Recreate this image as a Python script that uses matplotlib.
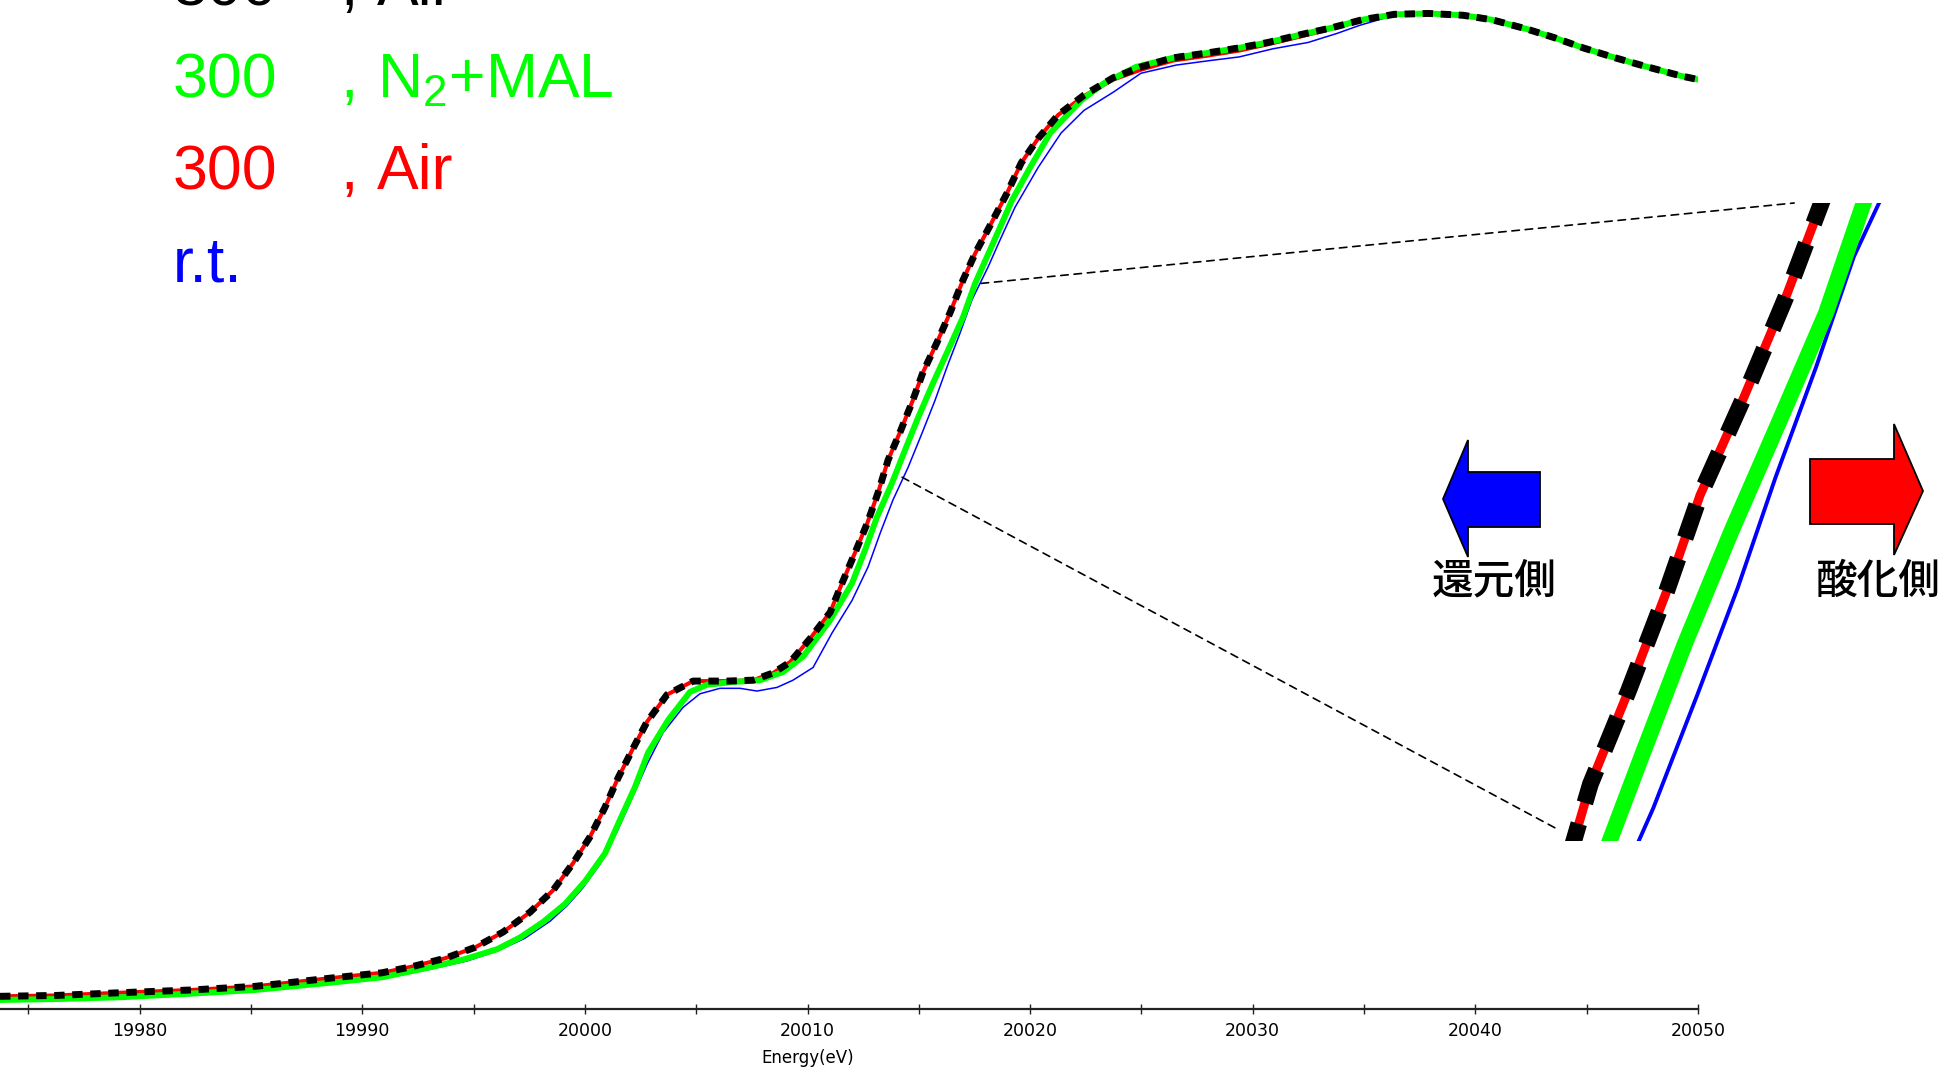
import matplotlib
matplotlib.use('Agg')
import matplotlib.pyplot as plt
from matplotlib.patches import Polygon, ConnectionPatch

plt.rcParams['font.family'] = ['Liberation Sans', 'DejaVu Sans']
plt.rcParams['mathtext.fontset'] = 'custom'
plt.rcParams['mathtext.rm'] = 'Liberation Sans'
plt.rcParams['mathtext.default'] = 'regular'

# ---------------- data (Energy in eV, normalized absorption) ----------------
energy_air_dash = [19973.73, 19976.29, 19979.16, 19982.31, 19985.18, 19988.55, 19990.89, 19992.28,
                   19993.72, 19995.07, 19996.33, 19997.54, 19998.57, 19999.47, 20000.23, 20000.91,
                   20001.49, 20002.17, 20002.79, 20003.69, 20004.86, 20006.39, 20007.56, 20008.46,
                   20009.22, 20010.12, 20011.02, 20011.55, 20012.14, 20012.68, 20013.17, 20013.62,
                   20014.16, 20014.70, 20015.19, 20015.82, 20016.41, 20016.99, 20017.53, 20018.16,
                   20018.97, 20019.60, 20020.36, 20021.26, 20022.43, 20023.73, 20024.99, 20026.42,
                   20027.86, 20029.39, 20030.69, 20032.22, 20033.52, 20034.91, 20036.35, 20037.88,
                   20039.45, 20040.75, 20042.28, 20043.58, 20044.84, 20046.28, 20047.72, 20049.24,
                   20050.01]
mu_air_dash = [0.014, 0.015, 0.018, 0.021, 0.025, 0.034, 0.040, 0.047, 0.056, 0.068, 0.085, 0.107,
               0.131, 0.161, 0.190, 0.223, 0.255, 0.288, 0.317, 0.347, 0.362, 0.362, 0.363, 0.371,
               0.383, 0.409, 0.438, 0.470, 0.504, 0.536, 0.570, 0.606, 0.637, 0.670, 0.703, 0.736,
               0.769, 0.805, 0.834, 0.863, 0.901, 0.934, 0.961, 0.987, 1.009, 1.028, 1.040, 1.050,
               1.055, 1.061, 1.067, 1.076, 1.083, 1.092, 1.098, 1.099, 1.097, 1.092, 1.082, 1.072,
               1.061, 1.050, 1.040, 1.030, 1.026]

energy_air = list(energy_air_dash)
mu_air = [0.014, 0.015, 0.018, 0.021, 0.025, 0.034, 0.040, 0.047, 0.056, 0.068, 0.085, 0.107,
          0.131, 0.161, 0.190, 0.223, 0.255, 0.288, 0.317, 0.347, 0.362, 0.362, 0.363, 0.371,
          0.383, 0.409, 0.438, 0.470, 0.504, 0.536, 0.570, 0.606, 0.637, 0.670, 0.703, 0.736,
          0.769, 0.805, 0.834, 0.863, 0.901, 0.934, 0.961, 0.987, 1.008, 1.026, 1.037, 1.047,
          1.052, 1.058, 1.065, 1.074, 1.082, 1.091, 1.098, 1.099, 1.097, 1.092, 1.082, 1.072,
          1.061, 1.050, 1.040, 1.030, 1.026]

energy_n2mal = [19973.73, 19976.29, 19979.16, 19982.31, 19985.18, 19988.55, 19990.89, 19993.05,
                19994.60, 19996.06, 19997.09, 19998.12, 19999.11, 20000.01, 20000.91, 20001.58,
                20002.25, 20002.84, 20003.74, 20004.72, 20005.49, 20006.66, 20007.87, 20008.90,
                20009.80, 20011.01, 20012.00, 20012.59, 20013.12, 20013.80, 20014.38, 20014.97,
                20015.64, 20016.31, 20016.99, 20017.53, 20018.20, 20019.19, 20020.00, 20020.90,
                20022.29, 20023.32, 20024.76, 20026.42, 20027.86, 20029.39, 20030.69, 20032.22,
                20033.52, 20034.91, 20036.35, 20037.88, 20039.45, 20040.75, 20042.28, 20043.58,
                20044.84, 20046.28, 20047.72, 20049.24, 20050.01]
mu_n2mal = [0.010, 0.011, 0.013, 0.017, 0.021, 0.029, 0.035, 0.046, 0.055, 0.066, 0.079, 0.096,
            0.116, 0.141, 0.172, 0.209, 0.245, 0.283, 0.319, 0.350, 0.358, 0.361, 0.363, 0.372,
            0.389, 0.429, 0.470, 0.507, 0.543, 0.581, 0.617, 0.653, 0.691, 0.727, 0.764, 0.801,
            0.838, 0.893, 0.929, 0.967, 1.003, 1.022, 1.040, 1.050, 1.055, 1.061, 1.067, 1.076,
            1.083, 1.092, 1.098, 1.099, 1.097, 1.092, 1.082, 1.072, 1.061, 1.050, 1.040, 1.030,
            1.026]

energy_rt = [19973.73, 19976.29, 19979.16, 19982.31, 19985.18, 19988.55, 19990.89, 19993.05,
             19994.70, 19996.06, 19997.30, 19998.44, 19999.20, 19999.92, 20000.68, 20001.45,
             20002.16, 20002.79, 20003.51, 20004.41, 20005.17, 20006.07, 20006.97, 20007.73,
             20008.63, 20009.35, 20010.25, 20011.10, 20012.00, 20012.72, 20013.26, 20013.84,
             20014.52, 20015.15, 20015.73, 20016.27, 20016.85, 20017.39, 20018.11, 20018.65,
             20019.32, 20020.36, 20021.39, 20022.42, 20023.73, 20024.98, 20026.56, 20028.08,
             20029.39, 20030.91, 20032.49, 20033.79, 20034.82, 20036.08, 20037.88, 20039.45,
             20040.75, 20042.28, 20043.58, 20044.84, 20046.28, 20047.72, 20049.24, 20050.01]
mu_rt = [0.009, 0.010, 0.012, 0.015, 0.020, 0.028, 0.034, 0.044, 0.053, 0.064, 0.078, 0.097,
         0.114, 0.134, 0.160, 0.196, 0.235, 0.270, 0.305, 0.333, 0.348, 0.354, 0.354, 0.351,
         0.355, 0.363, 0.377, 0.415, 0.451, 0.488, 0.525, 0.562, 0.598, 0.636, 0.672, 0.709,
         0.746, 0.783, 0.819, 0.849, 0.885, 0.929, 0.967, 0.992, 1.012, 1.033, 1.042, 1.047,
         1.051, 1.060, 1.067, 1.077, 1.086, 1.095, 1.099, 1.097, 1.092, 1.082, 1.072, 1.061,
         1.050, 1.040, 1.030, 1.026]

legend_temps = ["300", "300", "300", "r.t."]
legend_atmos = ["Air", "N$_2$+MAL", "Air", ""]
legend_colors = ["black", "#00ff00", "#ff0000", "#0000ff"]

x_ticks = [19970, 19980, 19990, 20000, 20010, 20020, 20030, 20040, 20050]
x_minor = [19975, 19985, 19995, 20005, 20015, 20025, 20035, 20045]
x_label = "Energy(eV)"
label_reduce = "還元側"
label_oxid = "酸化側"

# ---------------- figure ----------------
W, H = 1954, 1070
fig = plt.figure(figsize=(W / 100, H / 100), dpi=100)


def fx(px):
    return px / W


def fy(py):
    return 1 - py / H


ax = fig.add_axes([fx(-83), fy(1009), (1698 + 83) / W, (1009 + 40) / H])
ax.set_xlim(19970, 20050)
ax.set_ylim(0.0, 1.158)
for s in ("top", "left", "right"):
    ax.spines[s].set_visible(False)
ax.spines["bottom"].set_linewidth(1.6)
ax.spines["bottom"].set_color("#222222")
ax.set_yticks([])
ax.set_xticks(x_ticks)
ax.set_xticks(x_minor, minor=True)
ax.set_xticklabels([str(t) if t > 19970 else "" for t in x_ticks],
                   fontfamily="DejaVu Sans")
ax.tick_params(axis="x", which="both", direction="inout", length=7, width=1.0,
               color="#222222", labelsize=12.5, pad=6)
ax.patch.set_alpha(0)

series = [
    (energy_rt, mu_rt, dict(color="#0000ff", lw=1.1)),
    (energy_air, mu_air, dict(color="#ff0000", lw=2.9)),
    (energy_n2mal, mu_n2mal, dict(color="#00ff00", lw=4.3)),
    (energy_air_dash, mu_air_dash, dict(color="black", lw=5.0, dashes=(1.5, 1.1))),
]
for e, m, kw in series:
    ax.plot(e, m, solid_joinstyle="round", dash_capstyle="butt", **kw)

ax.text(0.5, -0.047, x_label, transform=ax.transAxes, ha="center", va="center",
        fontsize=12, fontfamily="DejaVu Sans")

# ---------------- inset (magnified edge) ----------------
axin = fig.add_axes([fx(1540), fy(841), 360 / W, 638 / H])
axin.set_xlim(20012.90, 20018.05)
axin.set_ylim(0.587, 0.801)
axin.axis("off")
inset_series = [
    (energy_rt, mu_rt, dict(color="#0000ff", lw=2.8)),
    (energy_air, mu_air, dict(color="#ff0000", lw=6.5)),
    (energy_n2mal, mu_n2mal, dict(color="#00ff00", lw=11.5)),
    (energy_air_dash, mu_air_dash, dict(color="black", lw=12.0, dashes=(2.1, 1.3))),
]
for e, m, kw in inset_series:
    axin.plot(e, m, dash_capstyle="butt", **kw)

for xyA, xyB in [((20014.25, 0.587), (0.047, 0.019)), ((20017.80, 0.801), (0.706, 1.0))]:
    con = ConnectionPatch(xyA=xyA, coordsA=ax.transData, xyB=xyB, coordsB=axin.transAxes,
                          color="black", lw=1.2, linestyle=(0, (4.5, 3.5)))
    fig.add_artist(con)

# ---------------- legend text ----------------
baselines = [5, 97, 189, 282]
for t, a, c, b in zip(legend_temps, legend_atmos, legend_colors, baselines):
    fig.text(fx(173), fy(b), t, color=c, fontsize=45, ha="left", va="baseline")
    if a:
        fig.text(fx(340), fy(b), ",", color=c, fontsize=45, ha="left", va="baseline")
        fig.text(fx(377), fy(b), a, color=c, fontsize=45, ha="left", va="baseline")

# ---------------- arrows ----------------
blue_arrow = [(1443, 499), (1468, 440), (1468, 472), (1540, 472), (1540, 527), (1468, 527),
              (1468, 557)]
red_arrow = [(1810, 459), (1894, 459), (1894, 424), (1923, 491), (1894, 555), (1894, 524),
             (1810, 524)]
for pts, col in [(blue_arrow, "#0000ff"), (red_arrow, "#ff0000")]:
    poly = Polygon([(fx(x), fy(y)) for x, y in pts], closed=True, facecolor=col,
                   edgecolor="black", lw=1.3, transform=fig.transFigure)
    fig.add_artist(poly)

cjk = ["Noto Sans CJK JP", "DejaVu Sans"]
fig.text(fx(1494), fy(581), label_reduce, family=cjk, fontsize=30, fontweight="medium",
         ha="center", va="center")
fig.text(fx(1878), fy(581), label_oxid, family=cjk, fontsize=30, fontweight="medium",
         ha="center", va="center")

fig.savefig("out.png", dpi=100, facecolor="white")
